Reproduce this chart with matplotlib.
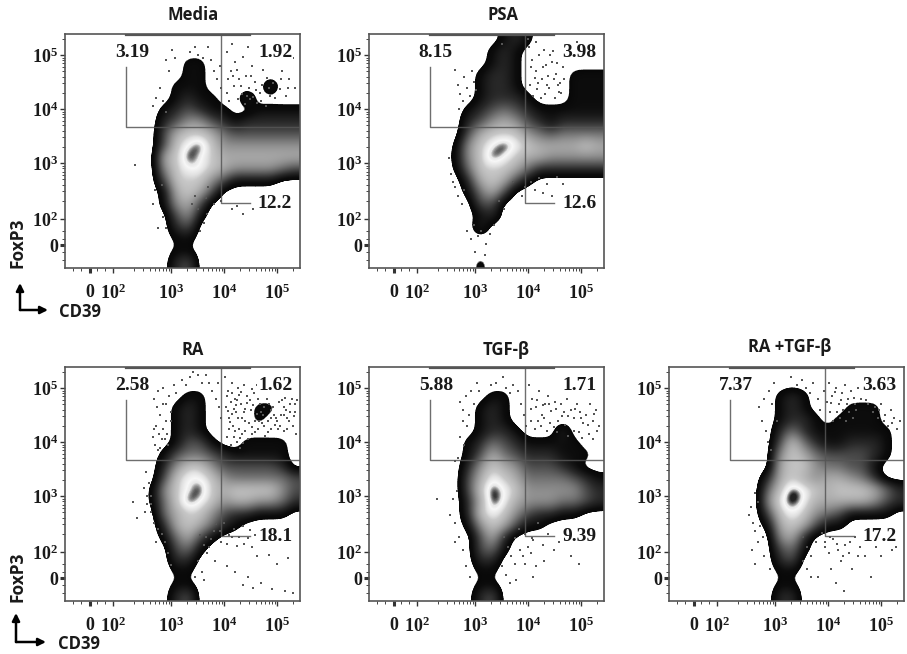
import numpy as np
import matplotlib
matplotlib.use("Agg")
import matplotlib.pyplot as plt
from matplotlib.colors import LinearSegmentedColormap, Normalize
from matplotlib.patches import FancyArrowPatch

plt.rcParams['mathtext.fontset'] = 'custom'
plt.rcParams['mathtext.bf'] = 'Liberation Serif:bold'
plt.rcParams['mathtext.rm'] = 'Liberation Serif:bold'

W, H = 907, 654

# Density level: 0 outside, a faint edge, 1 black edge ... 8 white ring, 9 dark core
MEDIA_GRID = [
"00000000000000000000","00000000000000000000","00000000001100000000","00000000001100000000",
"00000000011100000200","00000000012110020000","00000000123211001111","00000000235532122222",
"00000000367764333333","00000000378975555555","00000000679876666666","00000000578876555543",
"00000000377753111100","00000000167630000000","00000000156300000000","00000000035100000000",
"00000000023000000000","000000000a1000000000","000000000aa000000000","00000000023000000000"]
PSA_GRID = [
"00000000000121000000","00000000001210000000","00000000001210000000","00000000012210000111",
"00000000012210000111","00000000012221000111","00000000123432111111","00000000235653212222",
"00000000367775434444","0000000a578987666676","00000001579876655555","0000000a477764222222",
"00000000267631000000","00000000146300000000","00000000033000000000","00000000012000000000",
"00000000020000000000","00000000000000000000","00000000000000000000","00000000010000000000"]
RA_GRID = [
"00000000000000000000","00000000000000000000","00000000001100000000","00000000012100001100",
"00000000012100001000","00000000012100000000","00000000013310011110","00000000134432111110",
"00000000257753333320","00000000378875444443","0000000a578976777753","0000000a479875665542",
"00000000467753221110","00000000267642100000","00000000146310000000","00000000034100000000",
"00000000022000000000","000000000aa000000000","000000000aa000000000","00000000023000000000"]
TGF_GRID = [
"00000000000000000000","00000000000000000000","00000000001100000000","00000000012100000000",
"00000000012100000000","00000000012210002000","00000000124321111100","00000000136432221110",
"00000000257653332100","00000000368764444321","00000000379875555532","00000000269865554432",
"00000000278753221100","00000000157631100000","00000000036200000000","00000000034100000000",
"00000000022000000000","000000000aa000000000","000000000aa000000000","00000000023000000000"]
RATGF_GRID = [
"00000000000000000000","00000000000000000000","00000000012100000000","00000000012100011100",
"00000000012210111100","00000000024211111110","00000000037421122210","00000000057643333210",
"00000000067754433100","00000000267656654200","00000000479876777642","00000000589866666532",
"00000000378754311110","00000000167631100000","00000000056200000000","00000000034100000000",
"00000000023000000000","000000000aa000000000","000000000aa000000000","00000000022000000000"]
LEVELS = {"a": 0.7, **{str(d): float(d) for d in range(10)}}

# Outlying events, (CD39, FoxP3) in hundredths of a decade on the display scale
MEDIA_DOTS = [(405,505),(412,470),(420,488),(428,455),(436,497),(441,462),(447,440),(452,480),(458,450),(463,503),
(468,430),(474,472),(480,458),(487,425),(492,448),(498,490),(505,438),(510,470),(517,425),(523,455),(529,495),(534,440),
(405,430),(410,415),(418,442),(426,418),(433,428),(440,410),(448,418),(455,422),(462,412),(470,415),(478,405),(415,520),
(445,515),(500,510),(290,490),(296,470),(302,510),(308,495),(335,505),(345,515),(350,500),(360,495),(370,515),(376,490),
(381,470),(387,455),(392,480),(395,440),(280,440),(272,420),(265,405),(285,415),(290,395),(340,225),(345,240),(350,215),
(365,235),(370,255),(380,225),(395,230),(415,215),(425,220),(435,205),(455,215),(232,296),(265,225),(270,250),(282,260),
(285,200),(290,180),(275,180),(355,175),(362,190),(368,205),(408,455),(416,462),(424,472),(432,442),(444,425),(450,462),
(460,435),(472,445),(484,440),(496,420),(508,455),(520,440)]
PSA_DOTS = [(402,515),(408,490),(414,470),(420,500),(426,455),(433,482),(440,440),(446,508),(452,465),(458,432),
(404,445),(410,425),(416,438),(424,420),(432,428),(438,462),(445,488),(450,420),(456,445),(462,430),(468,455),(472,500),
(478,515),(485,508),(492,525),(400,530),(415,525),(430,510),(350,520),(262,472),(268,445),(272,428),(278,415),(280,460),
(285,440),(290,425),(295,470),(298,450),(302,435),(270,400),(250,310),(255,280),(258,265),(262,255),(268,240),(275,225),
(280,250),(405,265),(412,250),(420,272),(428,245),(436,262),(445,240),(455,275),(465,262),(388,240),(372,265),(395,255),
(285,175),(292,160),(298,185),(305,165),(312,175),(320,150),(328,168),(335,185),(300,135),(318,130),(345,230),(355,215),
(406,478),(412,458),(418,448),(428,478),(436,445),(442,500),(448,455),(454,485),(460,448),(466,478)]
RA_DOTS = [(402,520),(408,495),(414,510),(420,480),(426,500),(432,470),(438,505),(444,485),(450,460),(456,490),(462,505),
(468,470),(474,450),(480,480),(486,505),(492,465),(498,445),(504,475),(510,495),(516,460),(522,440),(528,480),(534,455),
(404,465),(410,445),(416,430),(422,455),(428,425),(434,445),(440,420),(446,435),(452,415),(458,440),(464,425),(470,455),
(476,430),(482,440),(488,425),(494,450),(500,440),(506,430),(512,450),(518,425),(524,470),(530,430),(536,415),(405,410),
(412,395),(418,410),(424,400),(430,390),(406,485),(413,475),(419,462),(425,478),(431,492),(437,455),(443,472),(449,478),
(455,468),(461,452),(467,488),(473,500),(479,495),(485,470),(491,490),(497,510),(503,505),(509,478),(515,482),(521,495),
(527,500),(533,470),(268,480),(274,465),(280,450),(285,500),(290,470),(296,485),(300,455),(305,505),(310,490),(320,515),
(328,505),(335,520),(342,530),(350,525),(358,510),(366,525),(372,510),(378,495),(384,480),(390,465),(394,445),(388,510),
(272,430),(265,410),(278,415),(284,425),(270,395),(276,385),(288,405),(294,395),(290,440),(280,390),(252,345),(258,325),
(262,300),(255,285),(250,270),(262,270),(268,250),(275,240),(282,230),(288,215),(295,195),(300,172),(272,215),(385,248),
(392,235),(400,250),(410,228),(418,240),(428,225),(436,245),(445,222),(452,205),(462,190),(470,215),(484,192),(500,175),
(520,185),(355,228),(362,210),(368,195),(375,220),(382,180),(350,180),(358,160),(362,145),(345,150),(405,170),(420,160),
(435,135),(445,150),(455,130),(470,140),(490,128),(515,125),(530,120),(228,290),(235,260),
(407,458),(411,438),(415,452),(423,468),(427,445),(433,415),(439,440),(445,405),(453,428),(459,418),(465,440),(471,435),
(477,412),(483,418),(489,445),(495,432),(501,425),(507,450),(513,420),(519,445),(525,455),(531,448),(537,478),(409,425),
(421,420),(429,408),(436,398),(414,490),(428,488),(440,462),(452,498),(464,480),(476,465),(488,460),(500,490),(512,465),
(380,235),(395,215),(405,212),(415,225),(425,208),(438,212),(448,238),(458,228),(365,225),(372,205),(285,470),(276,495),
(300,440),(292,415),(282,405),(268,425),(255,300),(248,315),(262,285)]
TGF_DOTS = [(402,505),(408,480),(414,465),(420,495),(426,450),(432,470),(438,485),(444,458),(450,475),(456,440),(462,470),
(468,455),(474,480),(480,460),(486,445),(492,470),(498,455),(504,435),(510,450),(516,470),(522,440),(528,460),(534,430),
(405,440),(412,425),(418,440),(424,430),(430,445),(436,420),(442,435),(448,428),(454,418),(470,432),(476,412),(486,420),
(496,418),(502,408),(515,415),(522,405),(530,420),(272,475),(278,460),(283,485),(288,450),(292,495),(298,470),(303,510),
(308,495),(330,505),(340,510),(352,520),(358,500),(365,490),(372,505),(380,495),(386,470),(392,450),(396,430),(285,430),
(278,440),(272,410),(280,395),(268,370),(262,365),(265,310),(258,295),(252,265),(262,250),(270,225),(262,215),(278,200),
(283,170),(290,150),(228,295),(375,222),(382,240),(395,230),(408,222),(418,250),(428,210),(437,230),(448,200),(458,215),
(468,235),(480,190),(495,175),(355,225),(362,205),(368,190),(375,175),(385,200),(395,175),(405,195),(415,170),(430,180),
(350,170),(358,155),(365,140),(378,145),(410,150),(406,462),(416,478),(428,468),(440,470),(452,462),(464,448),(476,448),
(488,462),(500,445),(512,432),(524,452),(410,218),(400,205),(390,190)]
RATGF_DOTS = [(402,510),(408,485),(414,500),(420,470),(426,490),(432,505),(438,480),(444,495),(450,470),(456,500),(462,480),
(404,455),(410,440),(416,455),(422,445),(428,460),(434,440),(440,455),(446,445),(452,460),(470,490),(476,470),(482,490),
(488,465),(494,445),(500,470),(506,440),(512,430),(518,460),(524,445),(530,425),(536,440),(288,495),(294,470),(298,510),
(304,440),(270,465),(276,440),(282,420),(286,400),(292,385),(280,480),(330,520),(342,505),(350,515),(358,500),(365,490),
(372,510),(380,480),(385,460),(392,495),(398,475),(262,305),(268,290),(255,280),(250,265),(258,250),(262,235),(268,215),
(272,245),(278,225),(256,200),(280,190),(262,175),(290,165),(352,225),(360,205),(368,190),(378,215),(388,232),(395,205),
(402,195),(410,220),(418,200),(425,180),(432,210),(440,195),(450,225),(460,205),(470,190),(478,215),(490,205),(500,190),
(510,215),(520,200),(352,180),(360,165),(368,150),(380,150),(405,165),(415,140),(445,165),(480,150),(430,125),(528,205),
(406,472),(412,492),(424,478),(436,470),(448,482),(472,478),(484,455),(496,460),(508,450),(520,435),(394,215),(404,225),
(416,212),(428,190),(442,215),(456,190)]

TITLES = ["Media", "PSA", "RA", "TGF-\u03b2", "RA +TGF-\u03b2"]
UL_VALUES = ["3.19", "8.15", "2.58", "5.88", "7.37"]
UR_VALUES = ["1.92", "3.98", "1.62", "1.71", "3.63"]
LR_VALUES = ["12.2", "12.6", "18.1", "9.39", "17.2"]
GRIDS = [MEDIA_GRID, PSA_GRID, RA_GRID, TGF_GRID, RATGF_GRID]
DOTS = [MEDIA_DOTS, PSA_DOTS, RA_DOTS, TGF_DOTS, RATGF_DOTS]
PANEL_BOX = [(65, 34), (369, 34), (65, 367), (369, 367), (669, 367)]
TITLE_POS = [(193, 15), (503, 15), (193, 350), (506, 350), (790, 347)]

X_TICKS = [1.47, 1.91, 3, 4, 5]
Y_TICKS = [1.48, 1.96, 3, 4, 5]
TICK_TEXT = ["0", r"$\mathbf{10^{2}}$", r"$\mathbf{10^{3}}$", r"$\mathbf{10^{4}}$", r"$\mathbf{10^{5}}$"]
XLIM = (1.0, 5.43)
YLIM = (1.06, 5.39)
GATE_X_LEFT, GATE_X_MID, GATE_X_END = 2.15, 3.94, 4.49
GATE_Y_LEFT_TOP, GATE_Y_MID, GATE_Y_LOW = 4.78, 3.67, 2.26

stops = [(0, 1.0), (0.5, 1.0), (0.56, 0.03), (1, 0.05), (2, 0.16), (3, 0.30), (4, 0.44), (5, 0.57),
         (6, 0.68), (7, 0.78), (7.4, 0.88), (7.9, 0.97), (8.15, 0.9), (8.5, 0.14), (9, 0.10)]
cmap = LinearSegmentedColormap.from_list("flow", [(v / 9, (g, g, g)) for v, g in stops], N=1024)
norm = Normalize(0, 9)

minor = [k + np.log10(m) for k in (2, 3, 4, 5) for m in range(2, 10)]
minor_x = [m for m in minor if m < XLIM[1]] + [1.15, 1.3, 1.6, 1.75]
minor_y = [m for m in minor if m < YLIM[1]] + [1.2, 1.35, 1.6, 1.75]

fig = plt.figure(figsize=(W / 100, H / 100), dpi=100, facecolor="white")
SERIF = "Liberation Serif"
SANS = "Open Sans"

for i in range(5):
    left, top = PANEL_BOX[i]
    ax = fig.add_axes([left / W, 1 - (top + 234) / H, 235 / W, 234 / H])
    grid = np.array([[LEVELS[c] for c in row] for row in GRIDS[i]], float)
    ax.imshow(grid, cmap=cmap, norm=norm, interpolation="bicubic", interpolation_stage="data",
              extent=(*XLIM, *YLIM), origin="upper", aspect="auto", zorder=1)
    pts = np.array(DOTS[i]) / 100
    ax.scatter(pts[:, 0], pts[:, 1], s=1.0, marker="s", color="#555555", linewidths=0, zorder=2)

    gate = dict(color="#555555", lw=1.0, zorder=3, alpha=0.85)
    ax.plot([GATE_X_LEFT, GATE_X_LEFT, XLIM[1]], [GATE_Y_LEFT_TOP, GATE_Y_MID, GATE_Y_MID], **gate)
    ax.plot([GATE_X_MID, GATE_X_MID, GATE_X_END], [YLIM[1], GATE_Y_LOW, GATE_Y_LOW], **gate)
    ax.plot([GATE_X_LEFT, GATE_X_END], [YLIM[1] - 0.01, YLIM[1] - 0.01], color="#555555", lw=1.6, zorder=3)

    lab = dict(family=SERIF, weight="bold", fontsize=14, ha="center", va="center", color="#1a1a1a", zorder=5,
               bbox=dict(facecolor="white", edgecolor="none", pad=0.8))
    ax.text(2.26, 5.04, UL_VALUES[i], **lab)
    ax.text(4.96, 5.04, UR_VALUES[i], **lab)
    ax.text(4.96, 2.26, LR_VALUES[i], **lab)

    ax.set_xlim(XLIM)
    ax.set_ylim(YLIM)
    for s in ax.spines.values():
        s.set_color("#555555")
        s.set_linewidth(1.2)
    ax.set_xticks(X_TICKS, TICK_TEXT, family=SERIF, weight="bold", fontsize=13, color="#1a1a1a")
    ax.set_yticks(Y_TICKS, TICK_TEXT, family=SERIF, weight="bold", fontsize=13, color="#1a1a1a")
    ax.set_xticks(minor_x, minor=True)
    ax.set_yticks(minor_y, minor=True)
    ax.tick_params(axis="x", which="major", length=3.5, width=1.0, pad=8, color="#333333")
    ax.tick_params(axis="y", which="major", length=3.5, width=1.0, pad=1.5, color="#333333")
    ax.tick_params(which="minor", length=2, width=0.7, color="#444444")
    ax.get_xticklines()[0].set_markeredgewidth(2.2)
    ax.get_yticklines()[0].set_markeredgewidth(2.2)

    tx, ty = TITLE_POS[i]
    fig.text(tx / W, 1 - ty / H, TITLES[i], family=SANS, weight="bold", fontsize=12,
             ha="center", va="center", color="#1a1a1a")

# Axis captions with the L-shaped arrows
for fx, fy, cx, cy, x0, y0, x1, y1 in [(18, 243, 80, 312, 20, 310, 48, 283), (18, 577, 79, 644, 16, 642, 46, 613)]:
    fig.text(fx / W, 1 - fy / H, "FoxP3", family=SANS, weight="bold", fontsize=12.5, rotation=90,
             ha="center", va="center", color="#1a1a1a")
    fig.text(cx / W, 1 - cy / H, "CD39", family=SANS, weight="bold", fontsize=12,
             ha="center", va="center", color="#1a1a1a")
    for ex, ey in [(x0, y1), (x1, y0)]:
        fig.add_artist(FancyArrowPatch((x0 / W, 1 - y0 / H), (ex / W, 1 - ey / H), transform=fig.transFigure,
                                       arrowstyle="-|>", mutation_scale=11, lw=1.8, color="black",
                                       shrinkA=0, shrinkB=0))

fig.savefig("out.png", dpi=100)
